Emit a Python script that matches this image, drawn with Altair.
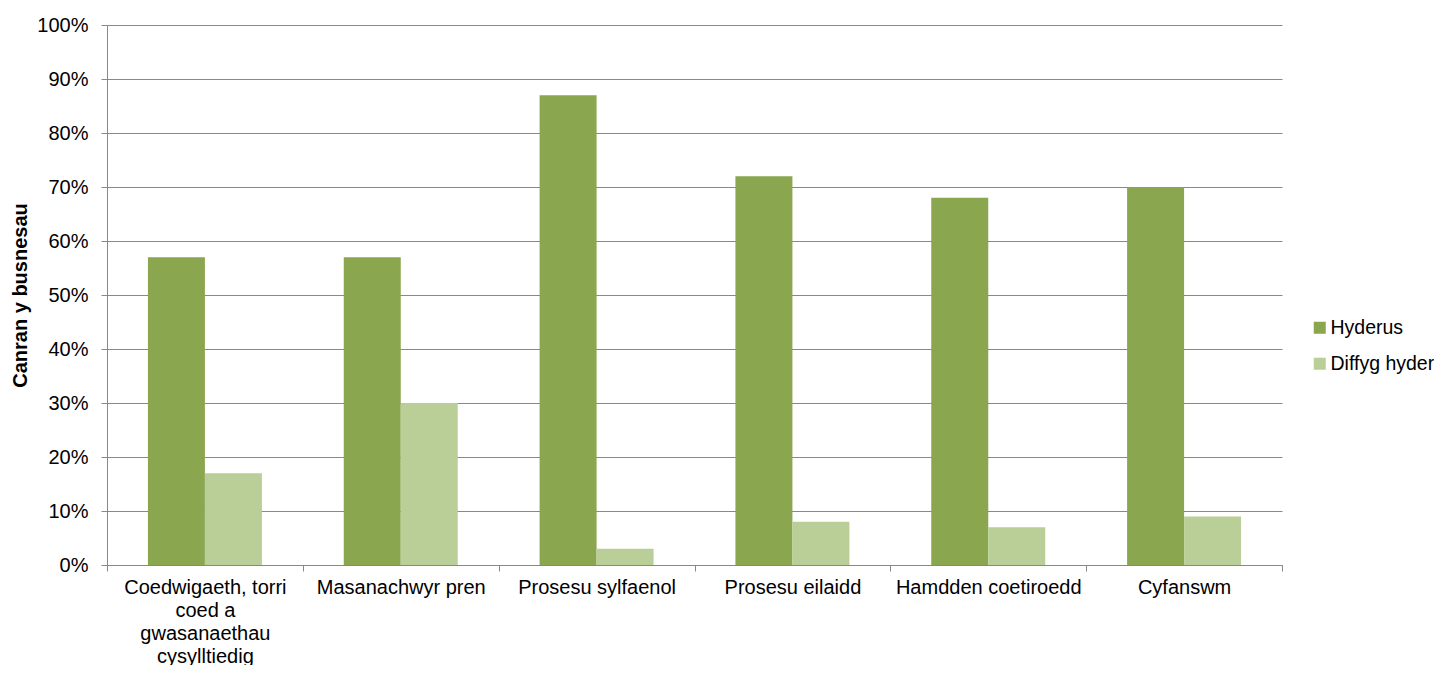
import altair as alt
import pandas as pd

categories = [
    "Coedwigaeth, torri coed a gwasanaethau cysylltiedig",
    "Masanachwyr pren",
    "Prosesu sylfaenol",
    "Prosesu eilaidd",
    "Hamdden coetiroedd",
    "Cyfanswm",
]
series = ["Hyderus", "Diffyg hyder"]
hyderus = [57, 57, 87, 72, 68, 70]
diffyg_hyder = [17, 30, 3, 8, 7, 9]
y_ticks = [0, 10, 20, 30, 40, 50, 60, 70, 80, 90, 100]
colors = ["#8AA64F", "#B9CF97"]

rows = []
for c, a, b in zip(categories, hyderus, diffyg_hyder):
    rows.append({"cat": c, "series": series[0], "value": a})
    rows.append({"cat": c, "series": series[1], "value": b})
df = pd.DataFrame(rows)

font = "Liberation Sans"
label_expr = (
    "datum.label == 'Coedwigaeth, torri coed a gwasanaethau cysylltiedig' ? "
    "['Coedwigaeth, torri', 'coed a', 'gwasanaethau', 'cysylltiedig'] : datum.label"
)

chart = alt.Chart(df).mark_bar().encode(
    x=alt.X(
        "cat:N",
        sort=categories,
        scale=alt.Scale(paddingInner=0, paddingOuter=0),
        axis=alt.Axis(
            title=None,
            labelAngle=0,
            labelExpr=label_expr,
            labelFont=font,
            labelFontSize=20,
            labelColor="#000000",
            labelLineHeight=23,
            labelPadding=6,
            tickBand="extent",
            tickSize=6,
            tickColor="#888888",
            domainColor="#888888",
            grid=False,
            labelLimit=300,
        ),
    ),
    xOffset=alt.XOffset(
        "series:N",
        sort=series,
        scale=alt.Scale(paddingInner=0, paddingOuter=0.718),
    ),
    y=alt.Y(
        "value:Q",
        scale=alt.Scale(domain=[0, 100], nice=False),
        axis=alt.Axis(
            title="Canran y busnesau",
            values=y_ticks,
            labelExpr="datum.value + '%'",
            labelFont=font,
            labelFontSize=20,
            labelColor="#000000",
            labelPadding=13,
            tickSize=6,
            tickColor="#888888",
            domainColor="#888888",
            gridColor="#888888",
            titleFont=font,
            titleFontSize=20,
            titleFontWeight="bold",
            titleColor="#000000",
            titlePadding=6,
        ),
    ),
    color=alt.Color(
        "series:N",
        sort=series,
        scale=alt.Scale(domain=series, range=colors),
        legend=alt.Legend(
            title=None,
            orient="none",
            legendX=1203,
            legendY=293,
            symbolType="square",
            symbolSize=144,
            symbolStrokeWidth=0,
            labelFont=font,
            labelFontSize=19.5,
            labelColor="#000000",
            rowPadding=15,
            labelOffset=1,
        ),
    ),
).properties(
    width=1175,
    height=540,
    autosize=alt.AutoSizeParams(type="none"),
    padding={"left": 99, "top": 17, "right": 152, "bottom": 100},
).configure_view(stroke=None)

chart.save("out.html", embed_options={"renderer": "svg", "actions": False})
